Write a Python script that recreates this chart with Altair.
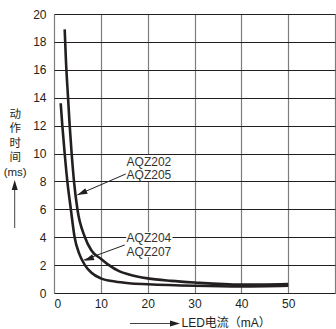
import altair as alt
import pandas as pd

# Curve AQZ202/AQZ205 (upper-right curve)
a_x = [2.28, 2.56, 3.0, 3.35, 3.77, 4.27, 5.0, 6.6, 8.0, 10.0, 11.5, 14.0, 16.0, 20.0, 25.0, 30.0, 40.0, 50.0]
a_y = [18.9, 16.6, 14.0, 12.0, 10.0, 8.0, 6.0, 4.0, 3.05, 2.45, 2.05, 1.55, 1.33, 1.05, 0.87, 0.75, 0.6, 0.65]
# Curve AQZ204/AQZ207 (lower-left curve)
b_x = [1.43, 1.78, 2.28, 2.85, 3.6, 4.4, 5.4, 6.6, 8.0, 10.0, 13.0, 16.0, 20.0, 30.0, 40.0, 50.0]
b_y = [13.6, 12.0, 10.0, 8.0, 6.0, 4.0, 2.8, 2.0, 1.45, 1.05, 0.82, 0.7, 0.63, 0.52, 0.47, 0.52]

# Axis ticks
x_ticks = [0, 10, 20, 30, 40, 50, 60]
y_ticks = [0, 2, 4, 6, 8, 10, 12, 14, 16, 18, 20]

# Annotations
label_text = ["AQZ202", "AQZ205", "AQZ204", "AQZ207"]
label_x = [15.5, 15.5, 15.5, 15.5]
label_y = [9.42, 8.47, 3.94, 2.96]
box_x = [15.4, 15.4]
box_x2 = [25.3, 25.3]
box_y = [9.9, 4.37]
box_y2 = [8.03, 2.58]
arrow_x = [15.32, 15.1]
arrow_y = [8.53, 3.44]
arrow_x2 = [4.98, 6.4]
arrow_y2 = [7.03, 2.37]
head_x = [5.96, 7.41]
head_y = [7.17, 2.44]
head_angle = [246.5, 248.9]

FONT = "Liberation Sans, Noto Sans CJK SC"
INK = "#231f20"
ARROW = "M0,-1L0.6,1L-0.6,1Z"

curves = pd.concat([
    pd.DataFrame({"x": a_x, "y": a_y, "s": "A"}),
    pd.DataFrame({"x": b_x, "y": b_y, "s": "B"}),
])

xs = alt.Scale(domain=[0, 60], nice=False, zero=False)
ys = alt.Scale(domain=[0, 20], nice=False, zero=False)

xaxis = alt.Axis(
    values=x_ticks, grid=True, gridColor="#7d7d7d", gridWidth=1.2,
    ticks=False, domain=False, labelFontSize=12, labelFont=FONT, labelColor=INK,
    labelPadding=5, labelOverlap=False, labelExpr="datum.value == 60 ? '' : datum.label",
    title="LED电流（mA）", titleFont=FONT, titleFontSize=12, titleFontWeight="normal",
    titleColor=INK, titleX=127, titleY=29, titleAlign="left", titleBaseline="middle",
    titleAnchor="start",
)
yaxis = alt.Axis(
    values=y_ticks, grid=True, gridColor=INK, gridWidth=1,
    ticks=False, domain=False, labelFontSize=12, labelFont=FONT, labelColor=INK,
    labelPadding=8, labelOverlap=False,
    title=["动", "作", "时", "间", "(ms)"], titleFont=FONT, titleFontSize=11.5,
    titleFontWeight="normal", titleColor=INK, titleAngle=0, titleX=-39.3, titleY=100,
    titleAlign="center", titleBaseline="middle", titleLineHeight=14.6,
)


def X(field="x"):
    return alt.X(f"{field}:Q", scale=xs, axis=xaxis)


def Y(field="y"):
    return alt.Y(f"{field}:Q", scale=ys, axis=yaxis)


lines = alt.Chart(curves).mark_line(
    color=INK, strokeWidth=2.6, interpolate="monotone"
).encode(x=X(), y=Y(), detail="s:N")

boxes = alt.Chart(pd.DataFrame({"x": box_x, "x2": box_x2, "y": box_y, "y2": box_y2})).mark_rect(
    color="white"
).encode(x=X(), x2="x2", y=Y(), y2="y2")

labels = alt.Chart(pd.DataFrame({"t": label_text, "x": label_x, "y": label_y})).mark_text(
    align="left", baseline="middle", font=FONT, fontSize=12, color="#333333"
).encode(x=X(), y=Y(), text="t:N")

arrows = alt.Chart(pd.DataFrame({"x": arrow_x, "y": arrow_y, "x2": arrow_x2, "y2": arrow_y2})).mark_rule(
    color=INK, strokeWidth=1
).encode(x=X(), y=Y(), x2="x2", y2="y2")

heads = alt.Chart(pd.DataFrame({"x": head_x, "y": head_y, "a": head_angle})).mark_point(
    shape=ARROW, filled=True, color=INK, size=100, opacity=1
).encode(x=X(), y=Y(), angle=alt.Angle("a:Q", scale=None))

# axis-title arrows (decorations beside the axis titles)
yarrow = alt.Chart().mark_rule(color="#444444", strokeWidth=1).encode(
    x=alt.value(-39.3), y=alt.value(214), y2=alt.value(172)
)
yhead = alt.Chart().mark_point(shape=ARROW, filled=True, color=INK, size=100, opacity=1).encode(
    x=alt.value(-39.3), y=alt.value(171)
)
xarrow = alt.Chart().mark_rule(color="#444444", strokeWidth=1).encode(
    x=alt.value(76), x2=alt.value(120), y=alt.value(309.5)
)
xhead = alt.Chart().mark_point(shape=ARROW, filled=True, color=INK, size=100, opacity=1, angle=90).encode(
    x=alt.value(121), y=alt.value(309.5)
)

chart = alt.layer(
    boxes, lines, arrows, heads, labels, yarrow, yhead, xarrow, xhead
).properties(
    width=281, height=279,
    autosize=alt.AutoSizeParams(type="none"),
    padding={"left": 54, "top": 14, "right": 1, "bottom": 36},
).configure_view(
    stroke="#3a3a3a", strokeWidth=2
).configure(background="white")

chart.save("out.html", embed_options={"renderer": "svg", "actions": False})
